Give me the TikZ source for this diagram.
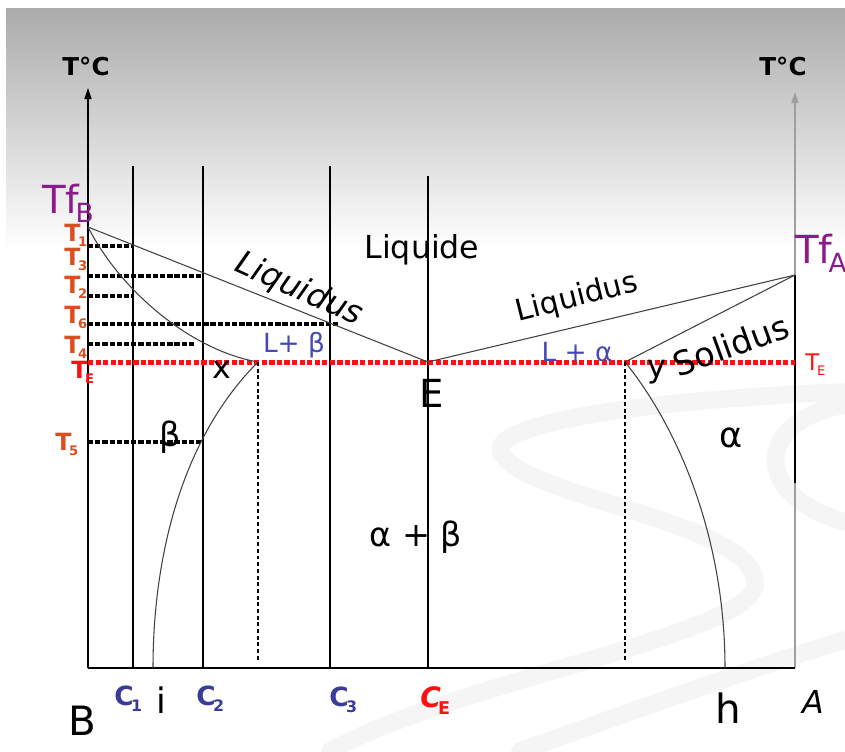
\documentclass[tikz,border=0pt]{standalone}
\usepackage{fontspec}
\setmainfont{DejaVu Sans}
\usetikzlibrary{arrows.meta}

\definecolor{tcol}{HTML}{D9501E}
\definecolor{tfcol}{HTML}{8B1A8B}
\definecolor{ccol}{HTML}{3A3C98}
\definecolor{lcol}{HTML}{4848B4}
\definecolor{tered}{HTML}{FF1010}
\newcommand\fs[1]{\fontsize{#1}{#1}\selectfont}
\newcommand\tsub[2][7.5]{\kern-0.1em\raisebox{-0.25em}{\fs{#1}#2}}

\begin{document}
\begin{tikzpicture}[
    x=0.02cm, y=-0.02cm,
    axis/.style={line width=0.9pt, -{Triangle[length=2.2mm, width=1.4mm]}},
    vline/.style={line width=0.7pt},
    curve/.style={line width=0.6pt, black!75},
    tline/.style={line width=2.2pt, dash pattern=on 3pt off 1.1pt},
    teline/.style={tered, line width=2.7pt, dash pattern=on 3pt off 1.3pt},
    guide/.style={line width=0.6pt, dash pattern=on 2.2pt off 1.6pt},
    swirl/.style={line width=10pt, gray!8, line cap=round},
    tl/.style={tcol, font=\bfseries\fs{13.5}, inner sep=0pt, anchor=base west},
    lbl/.style={inner sep=0pt},
]
\useasboundingbox (0,0) rectangle (845,751);

% --- background ---
\fill[white] (0,0) rectangle (845,751);
\shade[top color=gray!66, bottom color=white] (6,8) rectangle (845,250);
\draw[swirl] (845,392) .. controls (640,400) and (470,425) .. (505,458)
    .. controls (540,500) and (760,525) .. (755,585)
    .. controls (750,635) and (460,680) .. (330,751);
\draw[swirl] (845,522) .. controls (750,495) and (755,420) .. (845,405);
\draw[swirl] (520,751) .. controls (650,705) and (760,665) .. (845,640);

% --- key points ---
\coordinate (O) at (88,668);
\coordinate (Aend) at (795,668);
\coordinate (TfB) at (88,227);
\coordinate (TfA) at (795,275);
\coordinate (E) at (428,362);
\coordinate (xpt) at (258,362);
\coordinate (ypt) at (625,362);
\coordinate (ipt) at (153,668);
\coordinate (hpt) at (725,668);

% --- axes ---
\draw[axis] (O) -- (88,88);
\draw[axis, gray!75] (Aend) -- (795,92);
\draw[line width=0.8pt] (TfA) -- (795,483);
\draw[line width=0.9pt] (O) -- (Aend);

% --- composition lines ---
\foreach \x in {133,203,330}
  \draw[vline] (\x,166) -- (\x,668);
\draw[line width=1.6pt] (428,176) -- (428,668);

% --- temperature levels ---
\foreach \y/\xe in {246/133, 276/203, 296/133, 324/340, 344/195, 442/203}
  \draw[tline] (88,\y) -- (\xe,\y);
\draw[teline] (88,362.5) -- (795,362.5);

% --- liquidus, solidus, solvus ---
\draw[curve] (TfB) -- (E) -- (TfA);
\draw[curve] (TfB) .. controls (120,290) and (190,350) .. (xpt);
\draw[curve] (TfA) -- (ypt);
\draw[curve] (xpt) .. controls (180,440) and (153,560) .. (ipt);
\draw[curve] (ypt) .. controls (680,430) and (725,540) .. (hpt);
\draw[guide] (xpt) -- (258,660);
\draw[guide] (ypt) -- (625,660);

% --- labels ---
\node[lbl, font=\bfseries\fs{14}] (tcl) at (86,66) {T°C};
\node[lbl, font=\bfseries\fs{14}] (tcr) at (783,66) {T°C};
\node[lbl, tfcol, anchor=base west, font=\fs{22}] (tfb) at (42,213) {Tf\tsub[15]{B}};
\node[lbl, tfcol, anchor=base west, font=\fs{22}] (tfa) at (795,263) {Tf\tsub[15]{A}};
\node[tl] (t1) at (64,241) {T\tsub{1}};
\node[tl] (t3) at (64,265) {T\tsub{3}};
\node[tl] (t2) at (64,293) {T\tsub{2}};
\node[tl] (t6) at (64,323) {T\tsub{6}};
\node[tl] (t4) at (64,353) {T\tsub{4}};
\node[tl, tered] (tel) at (71,378) {T\tsub{E}};
\node[tl] (t5) at (55,450) {T\tsub{5}};
\node[tl, tered, font=\fs{13}] (ter) at (805,370) {T\tsub[7.5]{E}};

\node[lbl, font=\fs{18}] (liq) at (422,250) {Liquide};
\node[lbl, font=\itshape\fs{18.5}, rotate=-24] (liql) at (299,290) {Liquidus};
\node[lbl, font=\fs{17}, rotate=14] (liqr) at (577,298) {Liquidus};
\node[lbl, font=\fs{19}, rotate=20] (sol) at (731,345) {Solidus};
\node[lbl, lcol, font=\fs{15}] (lb) at (294,345) {L+ β};
\node[lbl, lcol, font=\fs{15}] (la) at (577,352) {L + α};
\node[lbl, font=\fs{18}] (xl) at (222,370) {x};
\node[lbl, font=\fs{18}] (yl) at (657,372) {y};
\node[lbl, font=\fs{22}] (el) at (432,393) {E};
\node[lbl, font=\fs{19}] (bet) at (170,437) {β};
\node[lbl, font=\fs{20}] (alp) at (731,438) {α};
\node[lbl, font=\fs{19}] (ab) at (416,537) {α + β};

\node[lbl, ccol, anchor=base west, font=\bfseries\fs{15}] (c1) at (114,705) {C\tsub[9]{1}};
\node[lbl, anchor=base, font=\fs{20}] (il) at (161,713) {i};
\node[lbl, ccol, anchor=base west, font=\bfseries\fs{15}] (c2) at (196,705) {C\tsub[9]{2}};
\node[lbl, ccol, anchor=base west, font=\bfseries\fs{15}] (c3) at (329,706) {C\tsub[9]{3}};
\node[lbl, tered, anchor=base west, font=\bfseries\itshape\fs{16}] (ce) at (420,707) {C\tsub[10]{\upshape E}};
\node[lbl, anchor=base, font=\fs{23}] (bl) at (82,735) {B};
\node[lbl, anchor=base, font=\fs{23}] (hl) at (728,723) {h};
\node[lbl, anchor=base, font=\itshape\fs{18}] (al) at (813,713) {A};
\end{tikzpicture}
\end{document}
